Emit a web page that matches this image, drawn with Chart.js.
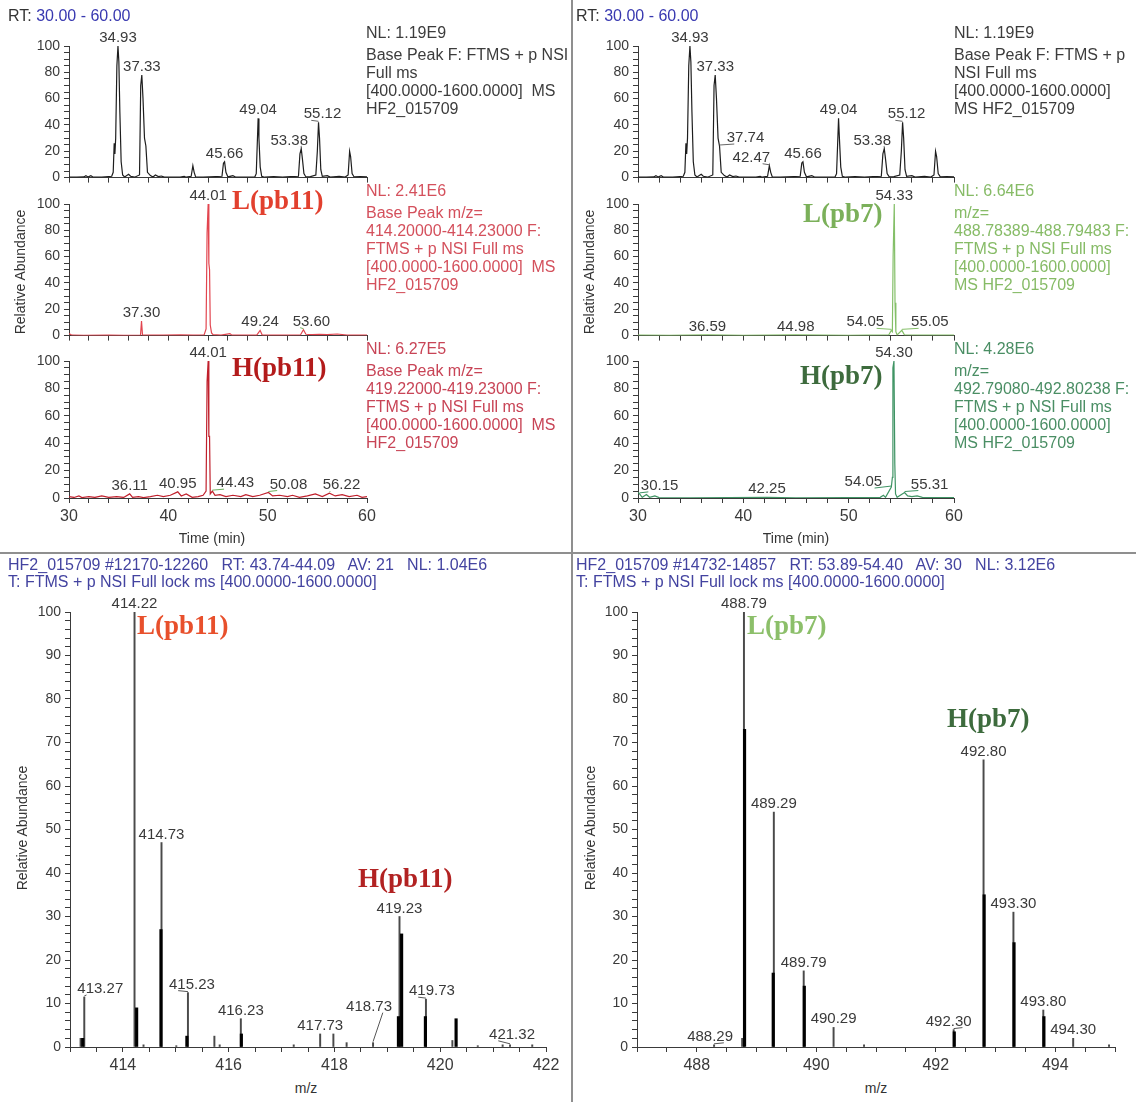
<!DOCTYPE html>
<html><head><meta charset="utf-8">
<script src="https://cdn.jsdelivr.net/npm/chart.js@4.4.1/dist/chart.umd.min.js"></script>
<style>
html,body{margin:0;padding:0;background:#fff;}
#root{position:relative;width:1136px;height:1102px;overflow:hidden;font-family:'Liberation Sans',Arial,sans-serif;}
canvas{position:absolute;}
.t{position:absolute;white-space:pre;font-size:16px;line-height:18px;color:#3c3c3c;}
.big{position:absolute;font-family:'Liberation Serif','Times New Roman',serif;font-weight:bold;font-size:27px;line-height:28px;white-space:pre;}
.rot{position:absolute;white-space:pre;font-size:14px;color:#333;transform:translate(-50%,-50%) rotate(-90deg);}
.ax{position:absolute;white-space:pre;font-size:14px;color:#333;transform:translate(-50%,-50%);}
.vline{position:absolute;left:571px;top:0;width:2px;height:1102px;background:#8f8f8f;}
.hline{position:absolute;left:0;top:552px;width:1136px;height:2px;background:#8f8f8f;}
</style></head>
<body><div id="root"><div class="vline"></div><div class="hline"></div></div>
<script>
// ---------------- DATA ----------------
// Base peak chromatogram (same in both upper panels)
const ticRT = [30.0,30.8,31.5,31.7,31.9,32.2,32.4,33.3,34.3,34.45,34.55,34.62,34.7,34.82,34.93,35.02,35.12,35.25,35.4,35.6,36.0,36.2,36.6,37.1,37.22,37.33,37.45,37.6,37.74,37.9,38.2,38.45,38.7,39.0,39.3,39.6,41.2,41.6,41.8,42.3,42.47,42.6,42.75,43.5,45.4,45.55,45.66,45.8,46.0,46.5,46.8,48.7,48.85,48.95,49.04,49.12,49.25,49.4,49.7,50.6,51.5,52.3,53.1,53.25,53.38,53.5,53.65,53.85,54.3,54.85,55.0,55.12,55.22,55.35,55.5,56.0,56.3,57.2,57.8,58.1,58.25,58.35,58.5,58.7,59.3,60.0];
const ticAbund = [0.3,0.3,0.5,1.5,0.4,1.5,0.4,0.3,1,4,26,18,30,85,100,88,50,12,2,0.5,2.5,1,0.3,2,70,78,60,30,24,4,1.5,0.4,2,0.8,1.2,0.4,0.3,1,0.3,1,9,4,0.5,0.3,1,11,12,4,0.5,1.5,0.3,0.4,3,25,45,30,8,1,0.3,0.8,0.4,0.8,1,18,22,14,3,0.5,0.8,2,20,42,30,6,1,1.5,0.4,1,0.4,2,20,16,3,0.5,0.8,0.5];
const ticPeakRT_left = [34.93,37.33,45.66,49.04,53.38,55.12];
const ticPeakAb_left = [100,78,12,45,22,42];
const ticPeakRT_right = [34.93,37.33,37.74,42.47,45.66,49.04,53.38,55.12];
const ticPeakAb_right = [100,78,24,9,12,45,22,42];

// L(pb11) extracted ion chromatogram m/z 414.20-414.23
const lpb11RT = [30.0,30.3,31.5,34.0,35.5,37.2,37.3,37.4,39.5,41.2,42.5,43.6,43.8,43.9,44.01,44.08,44.15,44.22,44.35,44.5,45.3,46.2,46.4,48.9,49.24,49.45,51.0,53.3,53.6,53.85,54.5,55.2,56.0,57.0,58.0,60.0];
const lpb11Abund = [1.5,0.3,0.2,0.4,0.2,0.4,11,0.4,0.3,0.5,0.3,0.5,5,78,100,55,50,8,2,0.8,0.3,1.5,0.3,0.4,4,0.4,0.3,0.5,4.5,1,0.8,1,0.8,1.2,0.4,0.3];
const lpb11PeakRT = [44.01,37.30,49.24,53.60];
const lpb11PeakAb = [100,11,4,4.5];

// H(pb11) extracted ion chromatogram m/z 419.22-419.23
const hpb11RT = [30.0,30.5,31.0,31.3,32.0,32.6,33.3,34.0,34.8,35.5,36.11,36.4,37.0,37.5,38.2,38.9,39.5,40.2,40.95,41.3,41.8,42.4,43.0,43.5,43.8,43.9,44.01,44.08,44.15,44.22,44.43,44.7,45.2,45.8,46.5,47.3,47.8,48.5,49.2,50.08,50.5,51.2,52.0,52.5,53.2,54.0,54.8,55.5,56.22,56.8,57.5,58.2,59.0,59.5,60.0];
const hpb11Abund = [1,0.4,1.5,0.3,1,0.4,1.5,0.5,1,0.4,3,0.5,1,0.3,1,2,1,2,4.5,1.5,3,0.5,1,2,5,85,100,45,45,3,5,2,2.5,1,2,1,2.5,1,2,4,1.5,2,1,2,0.5,1.5,3,1,3.5,1.5,2.5,1,2,0.5,1];
const hpb11PeakRT = [44.01,36.11,40.95,44.43,50.08,56.22];
const hpb11PeakAb = [100,3,4.5,5,4,3.5];

// L(pb7) extracted ion chromatogram m/z 488.78389-488.79483
const lpb7RT = [30.0,33.0,36.59,40.0,44.98,50.0,53.8,54.05,54.15,54.22,54.33,54.4,54.48,54.6,55.05,55.3,57.0,60.0];
const lpb7Abund = [0.3,0.2,0.5,0.2,0.5,0.2,0.5,4,3,60,100,25,3,0.5,4,0.5,0.3,0.3];
const lpb7PeakRT = [54.33,36.59,44.98,54.05,55.05];
const lpb7PeakAb = [100,0.5,0.5,4,4];

// H(pb7) extracted ion chromatogram m/z 492.79080-492.80238
const hpb7RT = [30.0,30.15,30.4,30.8,31.1,31.6,32.0,35.0,42.25,45.0,50.0,53.0,53.3,53.5,54.05,54.15,54.2,54.3,54.38,54.45,54.6,55.31,55.6,56.0,56.5,57.0,60.0];
const hpb7Abund = [4,3,0.5,2.5,0.5,1.5,0.3,0.2,0.5,0.2,0.3,0.5,2,0.5,8,15,95,100,25,3,0.5,4,1.5,1,1.5,0.5,0.3];
const hpb7PeakRT = [54.30,30.15,42.25,54.05,55.31];
const hpb7PeakAb = [100,3,0.5,8,4];

// Mass spectrum RT 43.74-44.09 (pb11 pair)
const specL_mz = [413.20,413.27,414.22,414.39,414.73,415.01,415.23,415.73,415.83,416.23,417.23,417.73,417.98,418.23,418.73,419.23,419.73,420.23,420.71,421.18,421.32,421.74];
const specL_ab = [2,11.5,100,0.5,47,0.3,12.5,2.5,0.5,6.5,0.5,3,3,1,1,30,11,1.5,0.3,0.5,0.5,0.5];
const specL_mzDark = [413.24,414.26,414.72,415.21,416.24,419.21,419.27,419.72,420.30];
const specL_abDark = [2,9,27,2.5,3,7,26,7,6.5];
const specL_peakMz = [414.22,414.73,413.27,415.23,416.23,417.73,418.73,419.23,419.73,421.32];
const specL_peakAb = [100,47,11.5,12.5,6.5,3,1,30,11,0.5];

// Mass spectrum RT 53.89-54.40 (pb7 pair)
const specR_mz = [488.29,488.76,488.79,489.29,489.79,490.29,490.80,492.30,492.80,493.30,493.80,494.30,494.90];
const specR_ab = [0.5,2,100,54,17.5,4.5,0.5,4,66,31,8.5,2,0.5];
const specR_mzDark = [488.80,489.28,489.80,492.31,492.81,493.31,493.81];
const specR_abDark = [73,17,14,3.5,35,24,7];
const specR_peakMz = [488.79,489.29,489.79,490.29,488.29,492.30,492.80,493.30,493.80,494.30];
const specR_peakAb = [100,54,17.5,4.5,0.5,4,66,31,8.5,2];

// ---------------- STYLE / LAYOUT ----------------
const FONT = "'Liberation Sans', Arial, Helvetica, sans-serif";
const AXIS = '#3a3a3a', TICK = '#3a3a3a';
const root = document.getElementById('root');

function isMult(v, m) { const r = v / m; return Math.abs(r - Math.round(r)) < 1e-6; }
function toPts(xs, ys) { return xs.map((x, i) => ({x: x, y: ys[i]})); }

function peakPlugin(xs, ys, nudge, leaderColor) {
  return {
    id: 'peakLabels',
    afterDatasetsDraw(chart) {
      const ctx = chart.ctx, sx = chart.scales.x, sy = chart.scales.y;
      ctx.save();
      ctx.font = '15px ' + FONT;
      ctx.textAlign = 'center';
      ctx.textBaseline = 'alphabetic';
      xs.forEach((v, i) => {
        const px = sx.getPixelForValue(v), py = sy.getPixelForValue(ys[i]);
        const n = nudge[i] || [0, 0];
        const lx = px + n[0], ly = py - 4 + n[1];
        const txt = v.toFixed(2);
        ctx.fillStyle = '#3a3a3a';
        ctx.fillText(txt, lx, ly);
        if (n[0] || n[1]) {
          const w = ctx.measureText(txt).width;
          let ax = lx;
          if (n[0] > 0) ax = lx - w * 0.3; else if (n[0] < 0) ax = lx + w * 0.3;
          ctx.strokeStyle = leaderColor; ctx.lineWidth = 1;
          ctx.beginPath();
          ctx.moveTo(ax, ly + 2);
          ctx.lineTo(px, py - 1);
          ctx.stroke();
        }
      });
      ctx.restore();
    }
  };
}

function makeChart(o) {
  const c = document.createElement('canvas');
  c.width = o.w; c.height = o.h;
  c.style.left = o.left + 'px'; c.style.top = o.top + 'px';
  c.style.width = o.w + 'px'; c.style.height = o.h + 'px';
  root.appendChild(c);
  const yW = o.L - o.left, xH = o.top + o.h - o.B;
  return new Chart(c.getContext('2d'), {
    type: o.type,
    data: {datasets: o.datasets},
    options: {
      responsive: false, animation: false, devicePixelRatio: 1, events: [],
      layout: {padding: {left: 0, top: o.T - o.top, right: o.left + o.w - o.R, bottom: 0}},
      plugins: {legend: {display: false}, tooltip: {enabled: false}},
      scales: {
        x: {
          type: 'linear', position: 'bottom', min: o.xMin, max: o.xMax, offset: false,
          afterFit: s => { s.height = xH; },
          grid: {drawOnChartArea: false, drawTicks: true, tickLength: 5, color: AXIS, offset: false},
          border: {display: true, color: AXIS, width: 1},
          ticks: {stepSize: o.xStep, autoSkip: false, maxRotation: 0, minRotation: 0, padding: 4,
            color: TICK, font: {family: FONT, size: 16},
            callback: v => (o.xLabels && isMult(v, o.xEvery)) ? String(Math.round(v)) : ''}
        },
        y: {
          type: 'linear', position: 'left', min: 0, max: 100,
          afterFit: s => { s.width = yW; },
          grid: {drawOnChartArea: false, drawTicks: true, tickLength: 5, color: AXIS},
          border: {display: true, color: AXIS, width: 1},
          ticks: {stepSize: o.yStep, autoSkip: false, padding: 4, color: TICK, font: {family: FONT, size: 14},
            callback: v => isMult(v, o.yEvery) ? String(Math.round(v)) : ''}
        }
      }
    },
    plugins: [o.plugin]
  });
}

function lineDs(xs, ys, color) {
  return {data: toPts(xs, ys), borderColor: color, borderWidth: 1.2, pointRadius: 0, tension: 0, fill: false};
}
function barDs(xs, ys, color, thick, order) {
  return {data: toPts(xs, ys), backgroundColor: color, borderWidth: 0, barThickness: thick, grouped: false, order: order};
}

function chrom(left, L, R, T, B, xs, ys, color, pxs, pys, nudge, leader, withLabels) {
  const top = T - 24;
  const h = (B - top) + (withLabels ? 32 : 8);
  makeChart({type: 'line', left: left, top: top, w: R - left + 18, h: h, L: L, R: R, T: T, B: B,
    xMin: 30, xMax: 60, xStep: 2, xEvery: 10, xLabels: withLabels, yStep: 5, yEvery: 20,
    datasets: [lineDs(xs, ys, color)], plugin: peakPlugin(pxs, pys, nudge, leader)});
}

// ---- upper left quadrant ----
chrom(0, 69, 367, 46, 182, ticRT, ticAbund, '#1e1e1e', ticPeakRT_left, ticPeakAb_left, {4: [-12, 0], 5: [4, 0]}, '#666', false);
chrom(0, 69, 367, 204, 340, lpb11RT, lpb11Abund, '#e2454f', lpb11PeakRT, lpb11PeakAb, {3: [8, 0]}, '#7ab060', false);
chrom(0, 69, 367, 361, 498, hpb11RT, hpb11Abund, '#c0202c', hpb11PeakRT, hpb11PeakAb, {3: [23, 0], 4: [20, 0], 5: [12, 0]}, '#6fb060', true);
// ---- upper right quadrant ----
chrom(575, 638, 954, 46, 182, ticRT, ticAbund, '#1e1e1e', ticPeakRT_right, ticPeakAb_right, {2: [26, 0], 3: [-18, 0], 6: [-12, 0], 7: [4, 0]}, '#666', false);
chrom(575, 638, 954, 204, 340, lpb7RT, lpb7Abund, '#84bf68', lpb7PeakRT, lpb7PeakAb, {3: [-26, 0], 4: [28, 0]}, '#84bf68', false);
chrom(575, 638, 954, 361, 498, hpb7RT, hpb7Abund, '#3f9464', hpb7PeakRT, hpb7PeakAb, {1: [20, 0], 3: [-28, 3], 4: [25, 0]}, '#3f9464', true);

// ---- lower spectra ----
makeChart({type: 'bar', left: 0, top: 585, w: 566, h: 492, L: 70, R: 546, T: 612, B: 1047,
  xMin: 413, xMax: 422, xStep: 0.5, xEvery: 2, xLabels: true, yStep: 2, yEvery: 10,
  datasets: [barDs(specL_mzDark, specL_abDark, '#000', 2.5, 0), barDs(specL_mz, specL_ab, '#4a4a4a', 1.3, 1)],
  plugin: peakPlugin(specL_peakMz, specL_peakAb, {2: [16, 0], 3: [4, 0], 6: [-4, -28], 8: [6, 0], 9: [2, -2]}, '#555')});
makeChart({type: 'bar', left: 575, top: 585, w: 561, h: 492, L: 637, R: 1115, T: 612, B: 1047,
  xMin: 487, xMax: 495, xStep: 0.5, xEvery: 2, xLabels: true, yStep: 2, yEvery: 10,
  datasets: [barDs(specR_mzDark, specR_abDark, '#000', 2.5, 0), barDs(specR_mz, specR_ab, '#4a4a4a', 1.3, 1)],
  plugin: peakPlugin(specR_peakMz, specR_peakAb, {4: [-4, 0], 5: [-5, 0]}, '#555')});

// ---------------- TEXT ----------------
function addDiv(cls, html, style) {
  const d = document.createElement('div');
  d.className = cls; d.innerHTML = html;
  Object.assign(d.style, style);
  root.appendChild(d);
  return d;
}
const HDR = '#4343a0';
addDiv('t', 'RT: <span style="color:#3838b0">30.00 - 60.00</span>', {left: '8px', top: '7px', color: '#333'});
addDiv('t', 'RT: <span style="color:#3838b0">30.00 - 60.00</span>', {left: '576px', top: '7px', color: '#333'});

function block(x, yNL, nl, rest, color) {
  addDiv('t', nl, {left: x + 'px', top: (yNL - 9) + 'px', color: color});
  addDiv('t', rest, {left: x + 'px', top: (yNL + 13) + 'px', color: color});
}
block(366, 33, 'NL: 1.19E9', 'Base Peak F: FTMS + p NSI\nFull ms\n[400.0000-1600.0000]  MS\nHF2_015709', '#3c3c3c');
block(366, 191, 'NL: 2.41E6', 'Base Peak m/z=\n414.20000-414.23000 F:\nFTMS + p NSI Full ms\n[400.0000-1600.0000]  MS\nHF2_015709', '#d4505c');
block(366, 349, 'NL: 6.27E5', 'Base Peak m/z=\n419.22000-419.23000 F:\nFTMS + p NSI Full ms\n[400.0000-1600.0000]  MS\nHF2_015709', '#c84456');
block(954, 33, 'NL: 1.19E9', 'Base Peak F: FTMS + p\nNSI Full ms\n[400.0000-1600.0000]\nMS HF2_015709', '#3c3c3c');
block(954, 191, 'NL: 6.64E6', 'm/z=\n488.78389-488.79483 F:\nFTMS + p NSI Full ms\n[400.0000-1600.0000]\nMS HF2_015709', '#86bb66');
block(954, 349, 'NL: 4.28E6', 'm/z=\n492.79080-492.80238 F:\nFTMS + p NSI Full ms\n[400.0000-1600.0000]\nMS HF2_015709', '#4a8e64');

addDiv('t', 'HF2_015709 #12170-12260   RT: 43.74-44.09   AV: 21   NL: 1.04E6\nT: FTMS + p NSI Full lock ms [400.0000-1600.0000]', {left: '8px', top: '556px', color: HDR, lineHeight: '17px'});
addDiv('t', 'HF2_015709 #14732-14857   RT: 53.89-54.40   AV: 30   NL: 3.12E6\nT: FTMS + p NSI Full lock ms [400.0000-1600.0000]', {left: '576px', top: '556px', color: HDR, lineHeight: '17px'});

addDiv('rot', 'Relative Abundance', {left: '20px', top: '272px'});
addDiv('rot', 'Relative Abundance', {left: '589px', top: '272px'});
addDiv('rot', 'Relative Abundance', {left: '22px', top: '828px'});
addDiv('rot', 'Relative Abundance', {left: '590px', top: '828px'});
addDiv('ax', 'Time (min)', {left: '212px', top: '538px'});
addDiv('ax', 'Time (min)', {left: '796px', top: '538px'});
addDiv('ax', 'm/z', {left: '306px', top: '1088px'});
addDiv('ax', 'm/z', {left: '876px', top: '1088px'});

addDiv('big', 'L(pb11)', {left: '232px', top: '186px', color: '#e2402e'});
addDiv('big', 'H(pb11)', {left: '232px', top: '353px', color: '#b31b1b'});
addDiv('big', 'L(pb7)', {left: '803px', top: '199px', color: '#7bb05a'});
addDiv('big', 'H(pb7)', {left: '800px', top: '361px', color: '#3d6b3d'});
addDiv('big', 'L(pb11)', {left: '137px', top: '611px', color: '#e8502c'});
addDiv('big', 'H(pb11)', {left: '358px', top: '864px', color: '#b22222'});
addDiv('big', 'L(pb7)', {left: '747px', top: '611px', color: '#8cbf6a'});
addDiv('big', 'H(pb7)', {left: '947px', top: '704px', color: '#3d6b3d'});
</script>
</body></html>
